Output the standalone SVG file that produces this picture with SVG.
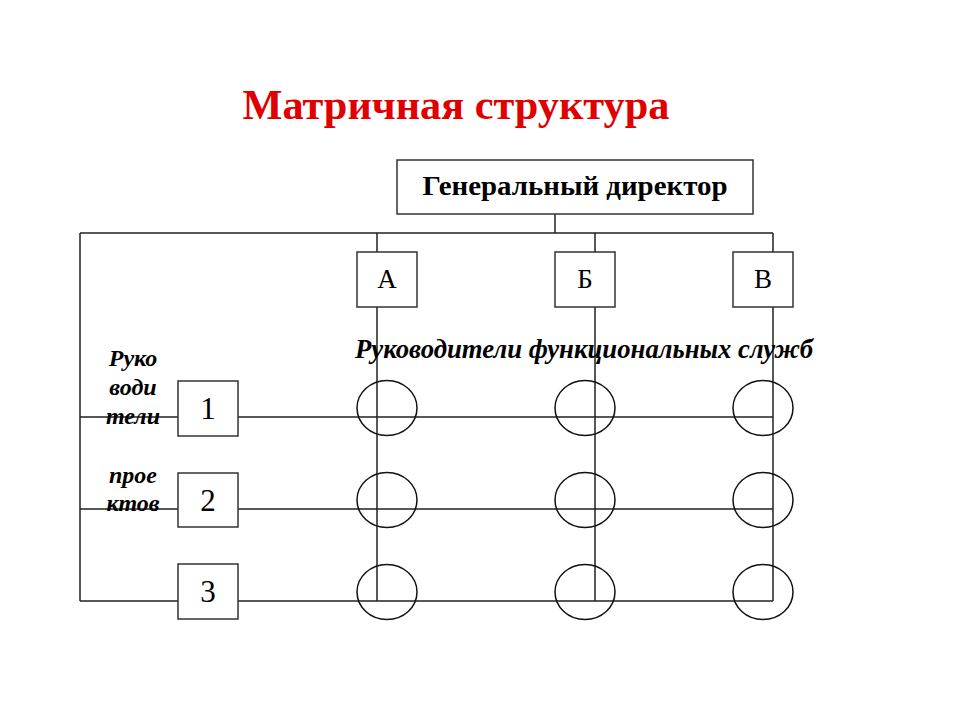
<svg xmlns="http://www.w3.org/2000/svg" width="960" height="720" viewBox="0 0 960 720">
<style>
.box{fill:#fff;stroke:#333;stroke-width:1.5}
.ln{fill:none;stroke:#222;stroke-width:1.5}
.cir{fill:none;stroke:#111;stroke-width:1.5}
.t{font-family:"Liberation Serif","Times New Roman",serif;fill:#000}
.b{font-weight:bold}
.bi{font-weight:bold;font-style:italic}
</style>
<rect width="960" height="720" fill="#fff"/>
<text class="t b" x="456" y="119" font-size="42" style="fill:#e00000" text-anchor="middle" textLength="427" lengthAdjust="spacingAndGlyphs">Матричная структура</text>
<g id="connectors">
<path class="ln" d="M555,214 V233 M80,233 H773 M80,233 V601"/>
<path class="ln" d="M377,233 V252 M377,307 V601 M595,233 V252 M595,307 V601 M773,233 V252 M773,307 V601"/>
<path class="ln" d="M80,417 H178 M238,417 H773 M80,509 H178 M238,509 H773 M80,601 H178 M238,601 H773"/>
</g>
<g id="gd"><rect class="box" x="397" y="160" width="356" height="54"/><text class="t b" x="575" y="195" font-size="28" text-anchor="middle" textLength="305" lengthAdjust="spacingAndGlyphs">Генеральный директор</text></g>
<g id="fA"><rect class="box" x="357" y="252" width="60" height="55"/><text class="t" x="387" y="288" font-size="27" text-anchor="middle">А</text></g>
<g id="fB"><rect class="box" x="555" y="252" width="60" height="55"/><text class="t" x="585" y="288" font-size="27" text-anchor="middle">Б</text></g>
<g id="fV"><rect class="box" x="733" y="252" width="60" height="55"/><text class="t" x="763" y="288" font-size="27" text-anchor="middle">В</text></g>
<text class="t bi" x="584" y="358" font-size="27" text-anchor="middle" textLength="458" lengthAdjust="spacingAndGlyphs">Руководители функциональных служб</text>
<g id="plabel" class="t bi" font-size="24" text-anchor="middle">
<text x="133" y="366">Руко</text>
<text x="133" y="395">води</text>
<text x="133" y="424">тели</text>
<text x="133" y="483">прое</text>
<text x="133" y="511">ктов</text>
</g>
<g id="p1"><rect class="box" x="178" y="381" width="60" height="55"/><text class="t" x="208" y="419" font-size="31" text-anchor="middle">1</text></g>
<g id="p2"><rect class="box" x="178" y="473" width="60" height="54"/><text class="t" x="208" y="511" font-size="31" text-anchor="middle">2</text></g>
<g id="p3"><rect class="box" x="178" y="564" width="60" height="55"/><text class="t" x="208" y="602" font-size="31" text-anchor="middle">3</text></g>
<g id="cells">
<ellipse class="cir" cx="387" cy="408" rx="30" ry="27.5"/>
<ellipse class="cir" cx="585" cy="408" rx="30" ry="27.5"/>
<ellipse class="cir" cx="763" cy="408" rx="30" ry="27.5"/>
<ellipse class="cir" cx="387" cy="500" rx="30" ry="27.5"/>
<ellipse class="cir" cx="585" cy="500" rx="30" ry="27.5"/>
<ellipse class="cir" cx="763" cy="500" rx="30" ry="27.5"/>
<ellipse class="cir" cx="387" cy="592" rx="30" ry="27.5"/>
<ellipse class="cir" cx="585" cy="592" rx="30" ry="27.5"/>
<ellipse class="cir" cx="763" cy="592" rx="30" ry="27.5"/>
</g>
</svg>
